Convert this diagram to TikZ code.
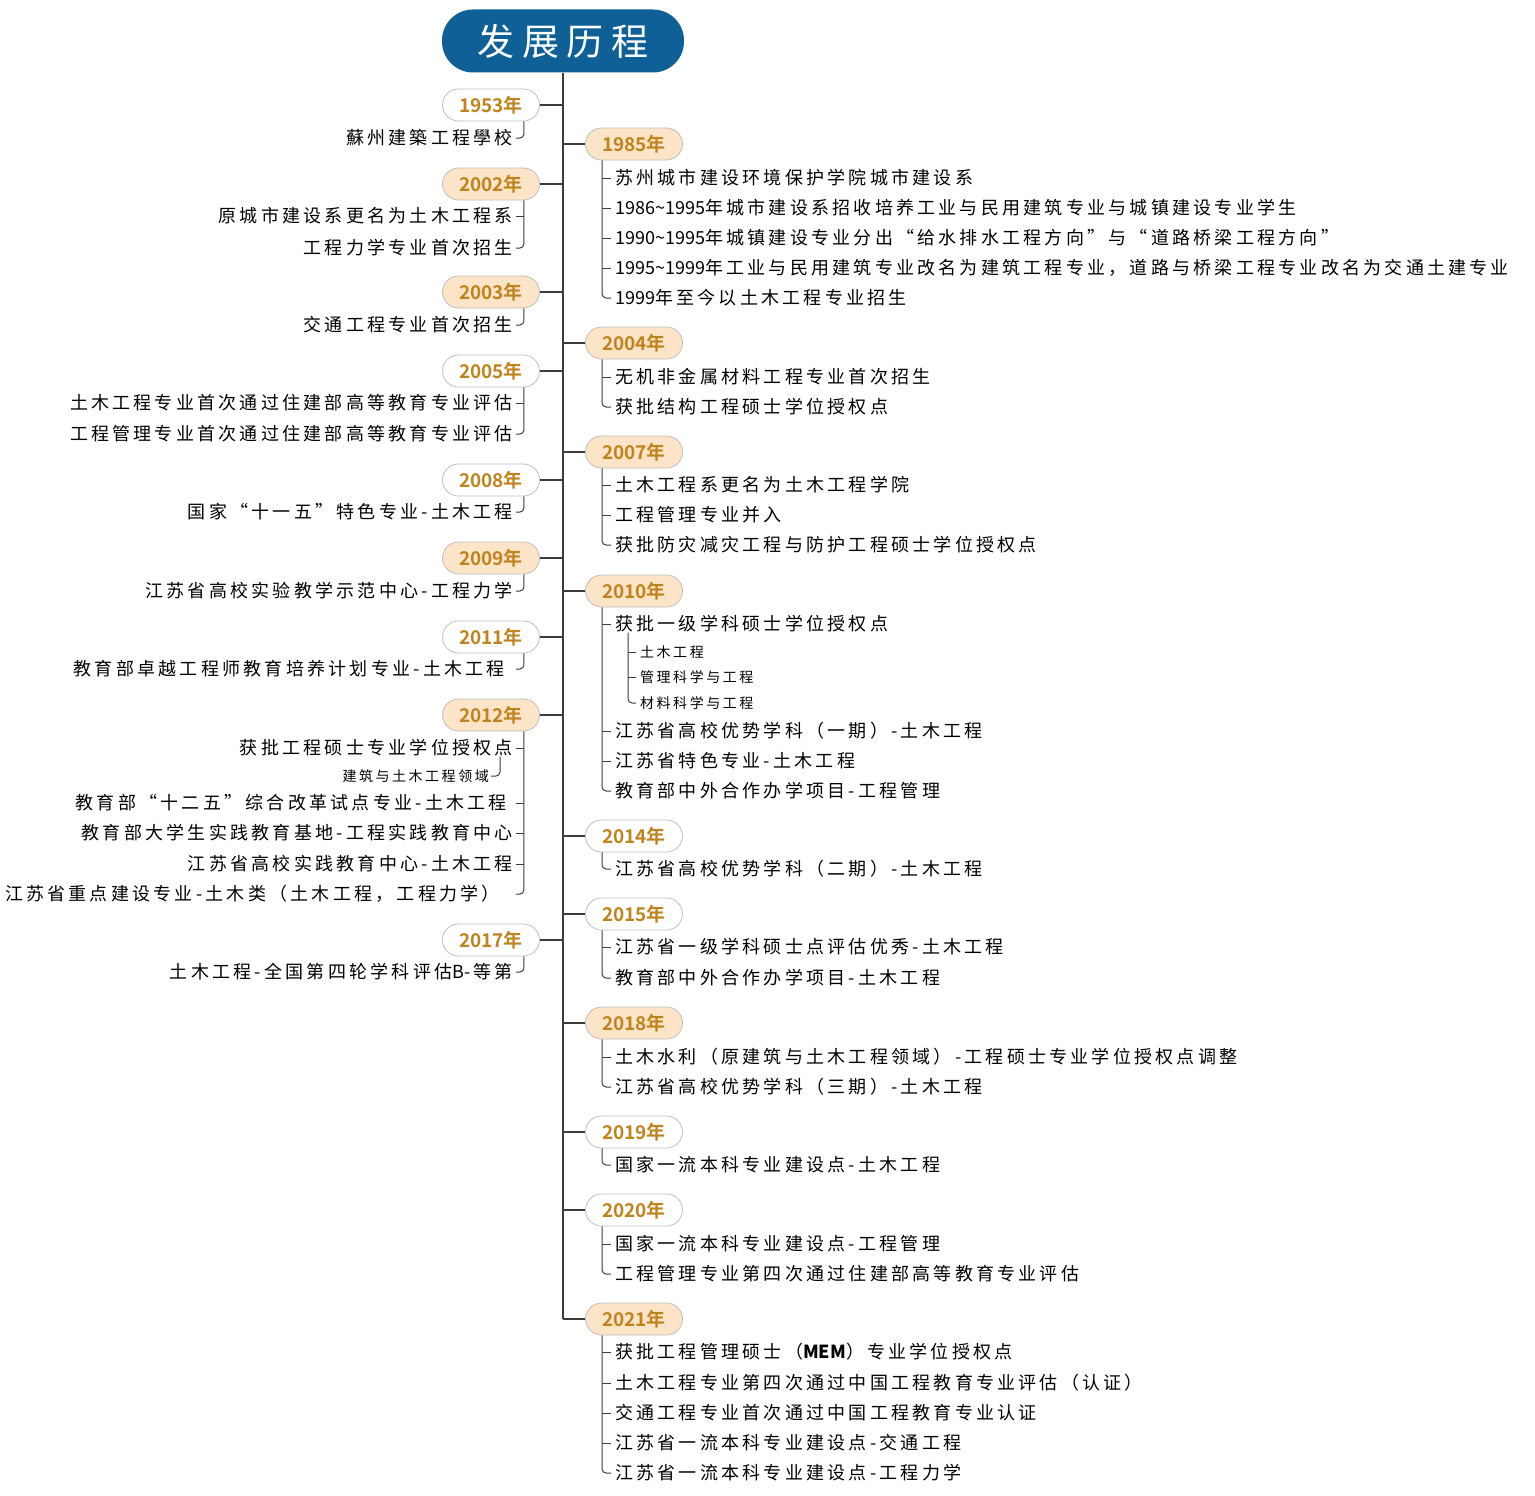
\documentclass[tikz,border=0pt]{standalone}
\usepackage{fontspec}
\setmainfont{Noto Sans CJK SC}
\newfontfamily\itemfont[LetterSpace=18]{Noto Sans CJK SC}
\newfontfamily\plainfont{Noto Sans CJK SC}
\newfontfamily\yearfont{Noto Sans CJK SC Bold}
\newfontfamily\titlefont[LetterSpace=20]{Noto Sans CJK SC}
\usetikzlibrary{calc}

\definecolor{titleblue}{RGB}{14,96,150}
\definecolor{yeartext}{RGB}{192,132,30}
\definecolor{yearfill}{RGB}{252,228,200}
\definecolor{yearline}{RGB}{190,190,190}
\definecolor{linegray}{RGB}{60,60,60}

\tikzset{
  year/.style={draw=yearline, line width=0.8pt, rounded corners=16pt, minimum width=97pt, minimum height=32pt, inner sep=0pt, text=yeartext, font=\yearfont\fontsize{19}{19}\selectfont},
  yearhot/.style={year, fill=yearfill},
  itemL/.style={anchor=east, inner sep=0pt, font=\itemfont\fontsize{18}{18}\selectfont},
  itemR/.style={anchor=west, inner sep=0pt, font=\itemfont\fontsize{18}{18}\selectfont},
  subL/.style={itemL, font=\itemfont\fontsize{14}{14}\selectfont},
  subR/.style={itemR, font=\itemfont\fontsize{14}{14}\selectfont},
  spine/.style={draw=linegray, line width=1.3pt},
  bracket/.style={draw=linegray, line width=1pt, rounded corners=4pt}
}

\begin{document}
\begin{tikzpicture}[x=1pt, y=-1pt]
\useasboundingbox (0,0) rectangle (1535,1496);
\node[fill=titleblue, rounded corners=31pt, minimum width=242pt, minimum height=63pt, inner sep=0pt, text=white, font=\titlefont\fontsize{37}{37}\selectfont] (title) at (563,41) {发展历程};

% left side
\node[year] (y1953) at (491,105) {1953年};
\node[itemL] (y1953a) at (513,138) {蘇州建築工程學校};
\node[yearhot] (y2002) at (491,184) {2002年};
\node[itemL] (y2002a) at (513,216) {原城市建设系更名为土木工程系};
\node[itemL] (y2002b) at (513,248) {工程力学专业首次招生};
\node[yearhot] (y2003) at (491,292) {2003年};
\node[itemL] (y2003a) at (513,325) {交通工程专业首次招生};
\node[year] (y2005) at (491,371) {2005年};
\node[itemL] (y2005a) at (513,403) {土木工程专业首次通过住建部高等教育专业评估};
\node[itemL] (y2005b) at (513,434) {工程管理专业首次通过住建部高等教育专业评估};
\node[year] (y2008) at (491,480) {2008年};
\node[itemL] (y2008a) at (513,512) {国家“十一五”特色专业-土木工程};
\node[yearhot] (y2009) at (491,558) {2009年};
\node[itemL] (y2009a) at (513,591) {江苏省高校实验教学示范中心-工程力学};
\node[year] (y2011) at (491,637) {2011年};
\node[itemL] (y2011a) at (505,669) {教育部卓越工程师教育培养计划专业-土木工程};
\node[yearhot] (y2012) at (491,715) {2012年};
\node[itemL] (y2012a) at (513,748) {获批工程硕士专业学位授权点};
\node[subL] (y2012s) at (489,776) {建筑与土木工程领域};
\node[itemL] (y2012b) at (507,803) {教育部“十二五”综合改革试点专业-土木工程};
\node[itemL] (y2012c) at (513,833) {教育部大学生实践教育基地-工程实践教育中心};
\node[itemL] (y2012d) at (513,864) {江苏省高校实践教育中心-土木工程};
\node[itemL] (y2012e) at (500,894) {江苏省重点建设专业-土木类（土木工程，工程力学）};
\node[year] (y2017) at (491,940) {2017年};
\node[itemL] (y2017a) at (513,972) {土木工程-全国第四轮学科评估{\plainfont B}-等第};

% right side
\node[yearhot] (y1985) at (634,144) {1985年};
\node[itemR] (y1985a) at (615,178) {苏州城市建设环境保护学院城市建设系};
\node[itemR] (y1985b) at (615,208) {{\plainfont 1986\textasciitilde1995}年城市建设系招收培养工业与民用建筑专业与城镇建设专业学生};
\node[itemR] (y1985c) at (615,238) {{\plainfont 1990\textasciitilde1995}年城镇建设专业分出“给水排水工程方向”与“道路桥梁工程方向”};
\node[itemR] (y1985d) at (615,268) {{\plainfont 1995\textasciitilde1999}年工业与民用建筑专业改名为建筑工程专业，道路与桥梁工程专业改名为交通土建专业};
\node[itemR] (y1985e) at (615,298) {{\plainfont 1999}年至今以土木工程专业招生};
\node[yearhot] (y2004) at (634,343) {2004年};
\node[itemR] (y2004a) at (615,377) {无机非金属材料工程专业首次招生};
\node[itemR] (y2004b) at (615,407) {获批结构工程硕士学位授权点};
\node[yearhot] (y2007) at (634,452) {2007年};
\node[itemR] (y2007a) at (615,485) {土木工程系更名为土木工程学院};
\node[itemR] (y2007b) at (615,515) {工程管理专业并入};
\node[itemR] (y2007c) at (615,545) {获批防灾减灾工程与防护工程硕士学位授权点};
\node[yearhot] (y2010) at (634,591) {2010年};
\node[itemR] (y2010a) at (615,624) {获批一级学科硕士学位授权点};
\node[subR] (y2010s) at (640,652) {土木工程};
\node[subR] (y2010t) at (640,677) {管理科学与工程};
\node[subR] (y2010u) at (640,703) {材料科学与工程};
\node[itemR] (y2010b) at (615,731) {江苏省高校优势学科（一期）-土木工程};
\node[itemR] (y2010c) at (615,761) {江苏省特色专业-土木工程};
\node[itemR] (y2010d) at (615,791) {教育部中外合作办学项目-工程管理};
\node[year] (y2014) at (634,836) {2014年};
\node[itemR] (y2014a) at (615,869) {江苏省高校优势学科（二期）-土木工程};
\node[year] (y2015) at (634,914) {2015年};
\node[itemR] (y2015a) at (615,947) {江苏省一级学科硕士点评估优秀-土木工程};
\node[itemR] (y2015b) at (615,978) {教育部中外合作办学项目-土木工程};
\node[yearhot] (y2018) at (634,1023) {2018年};
\node[itemR] (y2018a) at (615,1057) {土木水利（原建筑与土木工程领域）-工程硕士专业学位授权点调整};
\node[itemR] (y2018b) at (615,1087) {江苏省高校优势学科（三期）-土木工程};
\node[year] (y2019) at (634,1132) {2019年};
\node[itemR] (y2019a) at (615,1165) {国家一流本科专业建设点-土木工程};
\node[year] (y2020) at (634,1210) {2020年};
\node[itemR] (y2020a) at (615,1244) {国家一流本科专业建设点-工程管理};
\node[itemR] (y2020b) at (615,1274) {工程管理专业第四次通过住建部高等教育专业评估};
\node[yearhot] (y2021) at (634,1319) {2021年};
\node[itemR] (y2021a) at (615,1352) {获批工程管理硕士（{\plainfont\bfseries MEM}）专业学位授权点};
\node[itemR] (y2021b) at (615,1383) {土木工程专业第四次通过中国工程教育专业评估（认证）};
\node[itemR] (y2021c) at (615,1413) {交通工程专业首次通过中国工程教育专业认证};
\node[itemR] (y2021d) at (615,1443) {江苏省一流本科专业建设点-交通工程};
\node[itemR] (y2021e) at (615,1473) {江苏省一流本科专业建设点-工程力学};

% spine and year connectors
\draw[spine] (title.south) -- (title.south |- y2021.west);
\draw[spine] (y1953.east) -- (y1953.east -| title.south);
\draw[spine] (y2002.east) -- (y2002.east -| title.south);
\draw[spine] (y2003.east) -- (y2003.east -| title.south);
\draw[spine] (y2005.east) -- (y2005.east -| title.south);
\draw[spine] (y2008.east) -- (y2008.east -| title.south);
\draw[spine] (y2009.east) -- (y2009.east -| title.south);
\draw[spine] (y2011.east) -- (y2011.east -| title.south);
\draw[spine] (y2012.east) -- (y2012.east -| title.south);
\draw[spine] (y2017.east) -- (y2017.east -| title.south);
\draw[spine] (y1985.west -| title.south) -- (y1985.west);
\draw[spine] (y2004.west -| title.south) -- (y2004.west);
\draw[spine] (y2007.west -| title.south) -- (y2007.west);
\draw[spine] (y2010.west -| title.south) -- (y2010.west);
\draw[spine] (y2014.west -| title.south) -- (y2014.west);
\draw[spine] (y2015.west -| title.south) -- (y2015.west);
\draw[spine] (y2018.west -| title.south) -- (y2018.west);
\draw[spine] (y2019.west -| title.south) -- (y2019.west);
\draw[spine] (y2020.west -| title.south) -- (y2020.west);
\draw[spine] (y2021.west -| title.south) -- (y2021.west);

% left brackets
\coordinate (b1953) at ([xshift=-16pt]y1953.south east);
\coordinate (b2002) at ([xshift=-16pt]y2002.south east);
\coordinate (b2003) at ([xshift=-16pt]y2003.south east);
\coordinate (b2005) at ([xshift=-16pt]y2005.south east);
\coordinate (b2008) at ([xshift=-16pt]y2008.south east);
\coordinate (b2009) at ([xshift=-16pt]y2009.south east);
\coordinate (b2011) at ([xshift=-16pt]y2011.south east);
\coordinate (b2012) at ([xshift=-16pt]y2012.south east);
\coordinate (b2017) at ([xshift=-16pt]y2017.south east);
\draw[bracket] (b1953) |- ([xshift=3pt]y1953a.east);
\draw[bracket] (b2002) |- ([xshift=3pt]y2002b.east);
\draw[bracket] ([xshift=3pt]y2002a.east) -- (y2002a.east -| b2002);
\draw[bracket] (b2003) |- ([xshift=3pt]y2003a.east);
\draw[bracket] (b2005) |- ([xshift=3pt]y2005b.east);
\draw[bracket] ([xshift=3pt]y2005a.east) -- (y2005a.east -| b2005);
\draw[bracket] (b2008) |- ([xshift=3pt]y2008a.east);
\draw[bracket] (b2009) |- ([xshift=3pt]y2009a.east);
\draw[bracket] (b2011) |- ([xshift=11pt]y2011a.east);
\draw[bracket] (b2012) |- ([xshift=16pt]y2012e.east);
\draw[bracket] ([xshift=3pt]y2012a.east) -- (y2012a.east -| b2012);
\draw[bracket] ([xshift=9pt]y2012b.east) -- (y2012b.east -| b2012);
\draw[bracket] ([xshift=3pt]y2012c.east) -- (y2012c.east -| b2012);
\draw[bracket] ([xshift=3pt]y2012d.east) -- (y2012d.east -| b2012);
\draw[bracket] ([xshift=-13pt]y2012a.south east) |- ([xshift=2pt]y2012s.east);
\draw[bracket] (b2017) |- ([xshift=3pt]y2017a.east);

% right brackets
\coordinate (b1985) at ([xshift=17pt]y1985.south west);
\coordinate (b2004) at ([xshift=17pt]y2004.south west);
\coordinate (b2007) at ([xshift=17pt]y2007.south west);
\coordinate (b2010) at ([xshift=17pt]y2010.south west);
\coordinate (b2014) at ([xshift=17pt]y2014.south west);
\coordinate (b2015) at ([xshift=17pt]y2015.south west);
\coordinate (b2018) at ([xshift=17pt]y2018.south west);
\coordinate (b2019) at ([xshift=17pt]y2019.south west);
\coordinate (b2020) at ([xshift=17pt]y2020.south west);
\coordinate (b2021) at ([xshift=17pt]y2021.south west);
\draw[bracket] (b1985) |- ([xshift=-4pt]y1985e.west);
\draw[bracket] (y1985a.west -| b1985) -- ([xshift=-4pt]y1985a.west);
\draw[bracket] (y1985b.west -| b1985) -- ([xshift=-4pt]y1985b.west);
\draw[bracket] (y1985c.west -| b1985) -- ([xshift=-4pt]y1985c.west);
\draw[bracket] (y1985d.west -| b1985) -- ([xshift=-4pt]y1985d.west);
\draw[bracket] (b2004) |- ([xshift=-4pt]y2004b.west);
\draw[bracket] (y2004a.west -| b2004) -- ([xshift=-4pt]y2004a.west);
\draw[bracket] (b2007) |- ([xshift=-4pt]y2007c.west);
\draw[bracket] (y2007a.west -| b2007) -- ([xshift=-4pt]y2007a.west);
\draw[bracket] (y2007b.west -| b2007) -- ([xshift=-4pt]y2007b.west);
\draw[bracket] (b2010) |- ([xshift=-4pt]y2010d.west);
\draw[bracket] (y2010a.west -| b2010) -- ([xshift=-4pt]y2010a.west);
\draw[bracket] (y2010b.west -| b2010) -- ([xshift=-4pt]y2010b.west);
\draw[bracket] (y2010c.west -| b2010) -- ([xshift=-4pt]y2010c.west);
\coordinate (s2010) at ([xshift=13pt]y2010a.south west);
\draw[bracket] (s2010) |- ([xshift=-4pt]y2010u.west);
\draw[bracket] (y2010s.west -| s2010) -- ([xshift=-4pt]y2010s.west);
\draw[bracket] (y2010t.west -| s2010) -- ([xshift=-4pt]y2010t.west);
\draw[bracket] (b2014) |- ([xshift=-4pt]y2014a.west);
\draw[bracket] (b2015) |- ([xshift=-4pt]y2015b.west);
\draw[bracket] (y2015a.west -| b2015) -- ([xshift=-4pt]y2015a.west);
\draw[bracket] (b2018) |- ([xshift=-4pt]y2018b.west);
\draw[bracket] (y2018a.west -| b2018) -- ([xshift=-4pt]y2018a.west);
\draw[bracket] (b2019) |- ([xshift=-4pt]y2019a.west);
\draw[bracket] (b2020) |- ([xshift=-4pt]y2020b.west);
\draw[bracket] (y2020a.west -| b2020) -- ([xshift=-4pt]y2020a.west);
\draw[bracket] (b2021) |- ([xshift=-4pt]y2021e.west);
\draw[bracket] (y2021a.west -| b2021) -- ([xshift=-4pt]y2021a.west);
\draw[bracket] (y2021b.west -| b2021) -- ([xshift=-4pt]y2021b.west);
\draw[bracket] (y2021c.west -| b2021) -- ([xshift=-4pt]y2021c.west);
\draw[bracket] (y2021d.west -| b2021) -- ([xshift=-4pt]y2021d.west);
\end{tikzpicture}
\end{document}
